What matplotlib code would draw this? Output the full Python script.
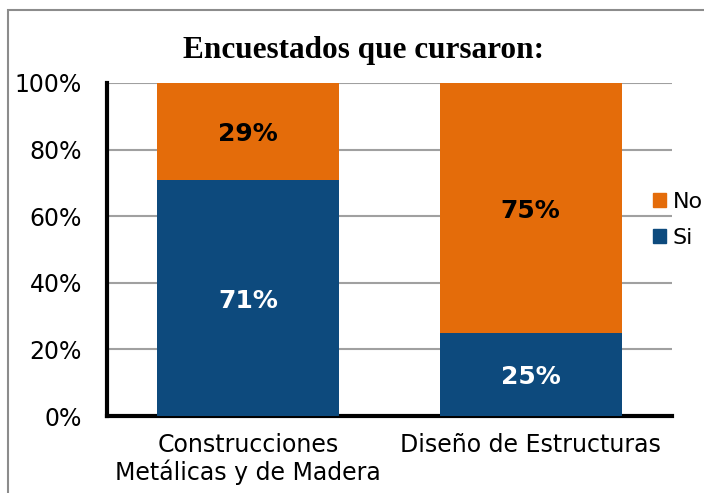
import matplotlib.pyplot as plt
from matplotlib.patches import Rectangle, Patch
from matplotlib.ticker import FuncFormatter

categories = ['Construcciones\nMetálicas y de Madera', 'Diseño de Estructuras']
si = [71, 25]
no = [29, 75]
yticks = [0, 20, 40, 60, 80, 100]

c_si = '#0D4A7D'
c_no = '#E46C0A'

fig = plt.figure(figsize=(7.04, 4.93), dpi=100)
fig.patches.append(Rectangle((8 / 704, -0.1), 1.2, 1.1 - 10 / 493 + 0.0,
                             transform=fig.transFigure, fill=False,
                             edgecolor='#8c8c8c', linewidth=1.5))
ax = fig.add_axes([107 / 704, 1 - 416 / 493, (672 - 107) / 704, (416 - 83) / 493])

x = list(range(len(categories)))
ax.bar(x, si, width=0.643, color=c_si, zorder=3)
ax.bar(x, no, width=0.643, bottom=si, color=c_no, zorder=3)

# small downward nudge so labels sit like in the original
off = 0.9
for i in x:
    ax.text(i, si[i] / 2 - off, f'{si[i]}%', ha='center', va='center', color='white',
            fontsize=18, fontweight='bold', zorder=4)
    ax.text(i, si[i] + no[i] / 2 - off, f'{no[i]}%', ha='center', va='center', color='black',
            fontsize=18, fontweight='bold', zorder=4)

ax.set_xlim(-0.5, 1.5)
ax.set_ylim(0, 100)
ax.set_yticks(yticks)
ax.yaxis.set_major_formatter(FuncFormatter(lambda v, p: f'{v:.0f}%'))
ax.set_xticks(x)
ax.set_xticklabels(categories, fontsize=17, linespacing=1.15)
ax.tick_params(axis='y', labelsize=17, length=0, pad=18)
ax.tick_params(axis='x', length=0, pad=12)
ax.grid(axis='y', color='#a0a0a0', linewidth=1.5, zorder=0)
for s in ['top', 'right']:
    ax.spines[s].set_visible(False)
ax.spines['left'].set_linewidth(3)
ax.spines['bottom'].set_linewidth(3)

fig.text(0.516, 0.897, 'Encuestados que cursaron:', ha='center', va='center',
         fontsize=22.5, fontweight='bold', family='Liberation Serif')

handles = [Patch(color=c_no, label='No'), Patch(color=c_si, label='Si')]
fig.legend(handles=handles, loc='center left', bbox_to_anchor=(644 / 704, 1 - 220 / 493),
           frameon=False, fontsize=16, handlelength=0.6, handleheight=0.6,
           handletextpad=0.3, labelspacing=0.7, borderaxespad=0)

fig.savefig('out.png', dpi=100)
